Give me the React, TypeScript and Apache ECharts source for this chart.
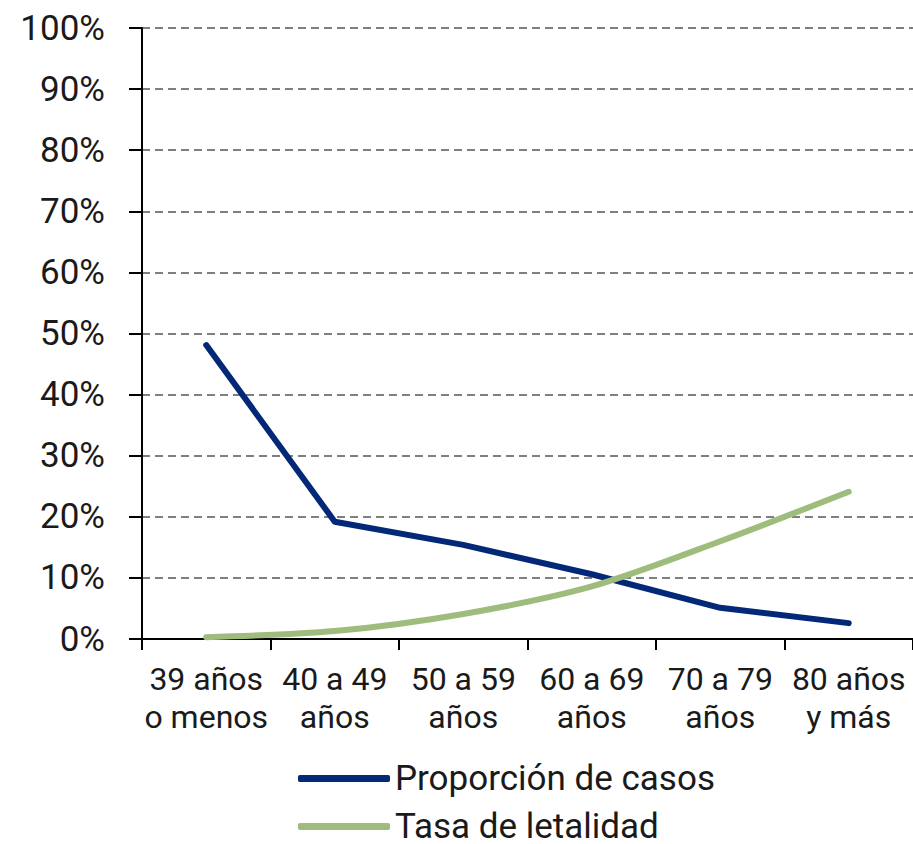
import React, { useEffect, useRef } from "react";
import * as echarts from "echarts";

const categories = ["39 años\no menos", "40 a 49\naños", "50 a 59\naños", "60 a 69\naños", "70 a 79\naños", "80 años\ny más"];
const proporcionCasos = [48.1, 19.2, 15.4, 10.6, 5.1, 2.6];
const tasaLetalidad = [0.3, 1.3, 4.1, 8.6, 16.0, 24.1];
const seriesNames = ["Proporción de casos", "Tasa de letalidad"];
const colors = ["#032878", "#9ebd7d"];

export default function App() {
  const ref = useRef<HTMLDivElement>(null);
  useEffect(() => {
    document.body.style.margin = "0";
    const chart = echarts.init(ref.current!, null, { renderer: "svg" });
    const font = "Roboto";
    const legendBase = {
      orient: "vertical",
      left: 298,
      itemWidth: 92,
      itemHeight: 7,
      itemGap: 0,
      padding: 0,
      icon: "roundRect",
      textStyle: { fontFamily: font, fontSize: 35, color: "#1a1a1a", lineHeight: 32, padding: [0, 0, 0, 0] },
    };
    chart.setOption({
      animation: false,
      backgroundColor: "#ffffff",
      grid: { left: 142, top: 28, bottom: 205, right: -9, containLabel: false },
      legend: [
        { ...legendBase, top: 761, data: [seriesNames[0]] },
        { ...legendBase, top: 809, data: [seriesNames[1]] },
      ],
      xAxis: {
        type: "category",
        data: categories,
        boundaryGap: true,
        axisLine: { lineStyle: { color: "#000", width: 2 } },
        axisTick: { show: true, length: 11, lineStyle: { color: "#000", width: 2 } },
        axisLabel: { fontFamily: font, fontSize: 32, color: "#1a1a1a", lineHeight: 38, margin: 21, interval: 0 },
        splitLine: { show: false },
      },
      yAxis: {
        type: "value",
        min: 0,
        max: 100,
        interval: 10,
        axisLine: { show: true, lineStyle: { color: "#000", width: 2 } },
        axisTick: { show: true, length: 13, lineStyle: { color: "#000", width: 2 } },
        axisLabel: { fontFamily: font, fontSize: 35, color: "#1a1a1a", margin: 37, formatter: "{value}%" },
        splitLine: { show: true, lineStyle: { color: "#555", width: 1.5, type: [8, 5] } },
      },
      series: [
        {
          name: seriesNames[0],
          type: "line",
          data: proporcionCasos,
          symbol: "none",
          smooth: false,
          lineStyle: { color: colors[0], width: 6, cap: "round", join: "round" },
          itemStyle: { color: colors[0] },
        },
        {
          name: seriesNames[1],
          type: "line",
          data: tasaLetalidad,
          symbol: "none",
          smooth: 0.3,
          lineStyle: { color: colors[1], width: 6, cap: "round", join: "round" },
          itemStyle: { color: colors[1] },
        },
      ],
    });
    return () => chart.dispose();
  }, []);
  return <div ref={ref} style={{ width: 913, height: 844 }} />;
}
